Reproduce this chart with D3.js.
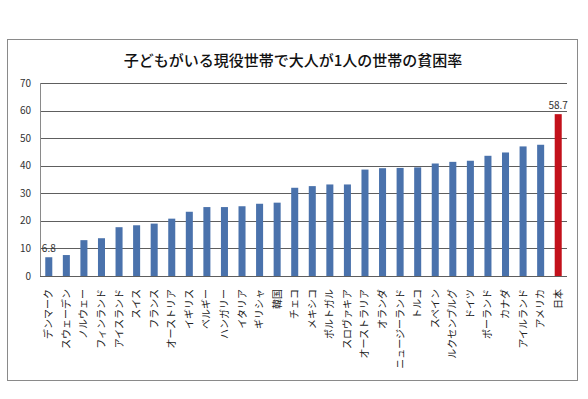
<!DOCTYPE html>
<html>
<head>
<meta charset="utf-8">
<script src="https://cdn.jsdelivr.net/npm/d3@7"></script>
<style>
  body { margin: 0; background: #fff; }
  svg { display: block; font-family: "Noto Sans CJK JP", "Noto Sans", sans-serif; }
  .grid line { stroke: #5e5e5e; stroke-width: 1; }
  .y-label { font-size: 10px; fill: #333; }
  .x-label { font-size: 10px; fill: #222; }
  .val-label { font-size: 10px; fill: #333; }
</style>
</head>
<body>
<svg id="chart" width="588" height="399"></svg>
<script>
// chart data
var countries = ["デンマーク", "スウェーデン", "ノルウェー", "フィンランド", "アイスランド", "スイス",
   "フランス", "オーストリア", "イギリス", "ベルギー", "ハンガリー", "イタリア", "ギリシャ", "韓国",
   "チェコ", "メキシコ", "ポルトガル", "スロヴァキア", "オーストラリア", "オランダ", "ニュージーランド",
   "トルコ", "スペイン", "ルクセンブルグ", "ドイツ", "ポーランド", "カナダ", "アイルランド", "アメリカ", "日本"];
var rates = [6.8, 7.6, 13.0, 13.7, 17.7, 18.4, 19.0, 20.8, 23.3, 25.0, 25.0, 25.3, 26.2, 26.6,
   32.0, 32.6, 33.2, 33.2, 38.6, 39.1, 39.2, 39.4, 40.8, 41.4, 41.8, 43.6, 44.8, 47.0, 47.6, 58.7];
var labelled = ["デンマーク", "日本"];   // bars that carry a value label
var highlight = "日本";
var yTicks = [0, 10, 20, 30, 40, 50, 60, 70];
var title = "子どもがいる現役世帯で大人が1人の世帯の貧困率";

var svg = d3.select("#chart");
var plotLeft = 40, plotRight = 567, plotTop = 83, plotBottom = 276;

var data = countries.map(function(c, i){ return {name: c, value: rates[i]}; });

var x = d3.scaleBand()
   .domain(countries)
   .range([plotLeft, plotRight])
   .paddingInner(0.6)
   .paddingOuter(0.3);

var y = d3.scaleLinear()
   .domain([0, 70])
   .range([plotBottom, plotTop]);

//outer frame
svg.append("rect")
   .attr("x", 7.5).attr("y", 39.5)
   .attr("width", 570).attr("height", 341)
   .attr("fill", "#fff")
   .attr("stroke", "#8a8a8a")
   .attr("stroke-width", 1);

//title
svg.append("text")
   .attr("x", 293).attr("y", 66)
   .attr("text-anchor", "middle")
   .attr("font-size", "15px")
   .attr("font-weight", 500)
   .attr("fill", "#111")
   .text(title);

//gridlines
svg.append("g").attr("class", "grid")
   .selectAll("line")
   .data(yTicks)
   .enter()
   .append("line")
   .attr("x1", plotLeft).attr("x2", plotRight)
   .attr("y1", function(d){ return Math.round(y(d)) + 0.5; })
   .attr("y2", function(d){ return Math.round(y(d)) + 0.5; });

//left axis line
svg.append("line")
   .attr("x1", plotLeft + 0.5).attr("x2", plotLeft + 0.5)
   .attr("y1", y(70)).attr("y2", y(0))
   .attr("stroke", "#8a8a8a");

//y labels
svg.selectAll("text.y-label")
   .data(yTicks)
   .enter()
   .append("text")
   .attr("class", "y-label")
   .attr("x", 31)
   .attr("y", function(d){ return y(d); })
   .attr("dy", "0.35em")
   .attr("text-anchor", "end")
   .text(function(d){ return d; });

//bars
svg.selectAll("rect.bar")
   .data(data)
   .enter()
   .append("rect")
   .attr("class", "bar")
   .attr("x", function(d){ return x(d.name); })
   .attr("width", x.bandwidth())
   .attr("y", function(d){ return y(d.value); })
   .attr("height", function(d){ return y(0) - y(d.value); })
   .attr("fill", function(d){ return d.name == highlight ? "#c3111b" : "#4a72ac"; });

//value labels
svg.selectAll("text.val-label")
   .data(data.filter(function(d){ return labelled.indexOf(d.name) >= 0; }))
   .enter()
   .append("text")
   .attr("class", "val-label")
   .attr("x", function(d){ return x(d.name) + x.bandwidth() / 2; })
   .attr("y", function(d){ return y(d.value) - 5; })
   .attr("text-anchor", "middle")
   .text(function(d){ return d.value.toFixed(1); });

//category labels, rotated
svg.selectAll("text.x-label")
   .data(countries)
   .enter()
   .append("text")
   .attr("class", "x-label")
   .attr("text-anchor", "end")
   .attr("dy", "0.35em")
   .attr("transform", function(d){
      return "translate(" + (x(d) + x.bandwidth() / 2) + ",289) rotate(-90)";
   })
   .text(function(d){ return d; });
</script>
</body>
</html>
